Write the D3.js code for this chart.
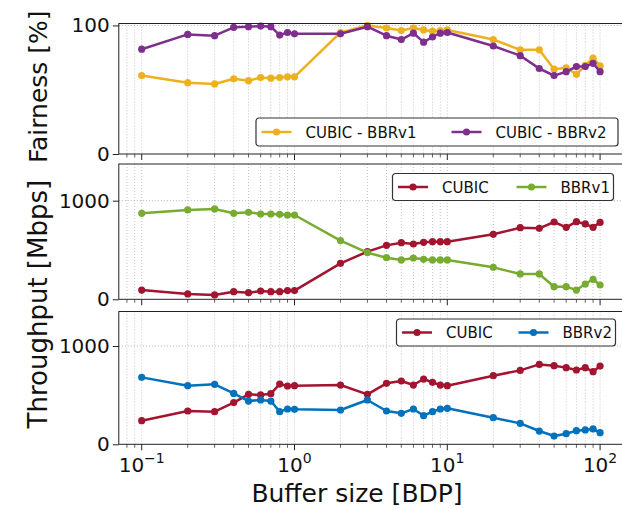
<!DOCTYPE html>
<html>
<head>
<meta charset="utf-8">
<script src="https://cdn.jsdelivr.net/npm/d3@7"></script>
<style>
  body { margin: 0; background: #fff; }
  text { font-family: "DejaVu Sans", sans-serif; fill: #111; }
</style>
</head>
<body>
<div id="chart"></div>
<script>
// buffer sizes in BDP
var bufferSizes = [0.1, 0.2, 0.3, 0.4, 0.5, 0.6, 0.7, 0.8, 0.9, 1,
                   2, 3, 4, 5, 6, 7, 8, 9, 10,
                   20, 30, 40, 50, 60, 70, 80, 90, 100];

// fairness [%]
var fairCubicBbr1 = [61, 55.5, 54.5, 58.5, 57, 59.5, 59, 59.5, 60, 60,
                     94.5, 100, 98, 96, 98, 96.5, 95.5, 96, 96.5,
                     89, 81, 81, 66, 67, 62, 69, 74.5, 68.5];
var fairCubicBbr2 = [81.5, 93, 92, 98.5, 99, 99.5, 99, 92.5, 94.5, 93.5,
                     93.5, 99, 92, 89, 94, 87, 91, 94, 94.5,
                     84, 76.5, 66.5, 61, 64, 68, 68, 70.5, 64];

// throughput [Mbps], CUBIC vs BBRv1
var tputCubic1 = [94, 54, 44, 77, 67, 84, 77, 77, 88, 88,
                  365, 483, 547, 574, 561, 578, 584, 584, 584,
                  659, 726, 720, 784, 730, 787, 764, 730, 780];
var tputBbr1 = [872, 906, 916, 872, 882, 865, 865, 862, 855, 855,
                595, 473, 422, 399, 419, 405, 399, 399, 399,
                324, 257, 257, 128, 128, 94, 155, 203, 145];

// throughput [Mbps], CUBIC vs BBRv2
var tputCubic2 = [240, 339, 332, 424, 508, 502, 515, 613, 593, 596,
                  603, 508, 620, 644, 603, 664, 630, 603, 596,
                  698, 752, 813, 800, 780, 756, 780, 739, 796];
var tputBbr2 = [681, 596, 610, 518, 440, 451, 440, 332, 359, 356,
                349, 451, 339, 315, 359, 291, 332, 359, 366,
                271, 213, 135, 84, 108, 139, 146, 156, 118];

var colors = {
	orange: "#EDB120",
	purple: "#7E2F8E",
	red:    "#A2142F",
	green:  "#77AC30",
	blue:   "#0072BD"
};

var width = 622, height = 509;

var svg = d3.select("#chart").append("svg")
			.attr("width", width)
			.attr("height", height);

// shared log x axis, matplotlib-like 5% margins in log space
var x = d3.scaleLog()
		.domain([Math.pow(10, -1.15), Math.pow(10, 2.15)])
		.range([118.8, 623]);

var panels = [
	{
		top: 23.5, bottom: 154, yMax: 101.5, yTicks: [0, 100],
		series: [
			{name: "CUBIC - BBRv1", values: fairCubicBbr1, color: colors.orange},
			{name: "CUBIC - BBRv2", values: fairCubicBbr2, color: colors.purple}
		],
		legend: {x: 256, y: 118, w: 362, h: 28, gap: 190}
	},
	{
		top: 164, bottom: 299.3, yMax: 1372, yTicks: [0, 1000],
		series: [
			{name: "CUBIC", values: tputCubic1, color: colors.red},
			{name: "BBRv1", values: tputBbr1, color: colors.green}
		],
		legend: {x: 392.5, y: 173.5, w: 221, h: 27, gap: 118.5}
	},
	{
		top: 311.5, bottom: 444.3, yMax: 1351, yTicks: [0, 1000],
		series: [
			{name: "CUBIC", values: tputCubic2, color: colors.red},
			{name: "BBRv2", values: tputBbr2, color: colors.blue}
		],
		legend: {x: 396.5, y: 319, w: 219, h: 27, gap: 116.5}
	}
];

var xTicks = x.ticks();
var majorX = [0.1, 1, 10, 100];

panels.forEach(function(p, i){
	var y = d3.scaleLinear()
			.domain([0, p.yMax])
			.range([p.bottom, p.top]);
	var g = svg.append("g");

	// dotted grid: every x tick, major y ticks
	g.selectAll(".vgrid").data(xTicks).enter().append("line")
		.attr("x1", function(d){ return x(d); })
		.attr("x2", function(d){ return x(d); })
		.attr("y1", p.top)
		.attr("y2", p.bottom)
		.attr("stroke", "#c4c4c4")
		.attr("stroke-width", 1)
		.attr("stroke-dasharray", "1,2");
	g.selectAll(".hgrid").data(p.yTicks.filter(function(d){ return d > 0; })).enter().append("line")
		.attr("x1", x.range()[0])
		.attr("x2", x.range()[1])
		.attr("y1", function(d){ return y(d); })
		.attr("y2", function(d){ return y(d); })
		.attr("stroke", "#b0b0b0")
		.attr("stroke-width", 1)
		.attr("stroke-dasharray", "1,2");

	// y axis
	var yAxis = d3.axisLeft(y)
				.tickValues(p.yTicks)
				.tickSize(6)
				.tickPadding(3)
				.tickFormat(d3.format("d"));
	var ya = g.append("g")
			.attr("transform", "translate(" + x.range()[0] + ",0)")
			.call(yAxis);
	ya.select(".domain").remove();
	ya.selectAll("line").attr("stroke", "#222");
	ya.selectAll("text")
		.style("font-size", "20px")
		.attr("fill", "#111");

	// x ticks at panel bottom
	g.selectAll(".xtick").data(xTicks).enter().append("line")
		.attr("x1", function(d){ return x(d); })
		.attr("x2", function(d){ return x(d); })
		.attr("y1", p.bottom)
		.attr("y2", function(d){ return p.bottom + (majorX.indexOf(d) >= 0 ? 6 : 3.5); })
		.attr("stroke", "#222")
		.attr("stroke-width", function(d){ return majorX.indexOf(d) >= 0 ? 1 : 0.7; });

	if (i === panels.length - 1){
		var exps = {0.1: "\u22121", 1: "0", 10: "1", 100: "2"};
		var lab = g.selectAll(".xlab").data(majorX).enter().append("text")
				.attr("x", function(d){ return x(d); })
				.attr("y", p.bottom + 28)
				.attr("text-anchor", "middle")
				.style("font-size", "20px");
		lab.append("tspan").text("10");
		lab.append("tspan")
			.attr("dy", -9)
			.style("font-size", "14px")
			.text(function(d){ return exps[d]; });
	}

	// series
	var line = d3.line()
				.x(function(d, j){ return x(bufferSizes[j]); })
				.y(function(d){ return y(d); });
	p.series.forEach(function(s){
		g.append("path")
			.datum(s.values)
			.attr("d", line)
			.attr("fill", "none")
			.attr("stroke", s.color)
			.attr("stroke-width", 2.5)
			.attr("stroke-linejoin", "round");
		g.selectAll(null).data(s.values).enter().append("circle")
			.attr("cx", function(d, j){ return x(bufferSizes[j]); })
			.attr("cy", function(d){ return y(d); })
			.attr("r", 3.6)
			.attr("fill", s.color);
	});

	// frame
	g.append("rect")
		.attr("x", x.range()[0])
		.attr("y", p.top)
		.attr("width", x.range()[1] - x.range()[0])
		.attr("height", p.bottom - p.top)
		.attr("fill", "none")
		.attr("stroke", "#222")
		.attr("stroke-width", 1);

	// legend
	var L = p.legend;
	var lg = g.append("g").attr("transform", "translate(" + L.x + "," + L.y + ")");
	lg.append("rect")
		.attr("width", L.w)
		.attr("height", L.h)
		.attr("rx", 3)
		.attr("fill", "#fff")
		.attr("stroke", "#333")
		.attr("stroke-width", 1.2);
	p.series.forEach(function(s, k){
		var ox = 5.5 + k * L.gap;
		var cy = L.h / 2;
		lg.append("line")
			.attr("x1", ox).attr("x2", ox + 30)
			.attr("y1", cy).attr("y2", cy)
			.attr("stroke", s.color)
			.attr("stroke-width", 2.5);
		lg.append("circle")
			.attr("cx", ox + 15).attr("cy", cy)
			.attr("r", 3.6)
			.attr("fill", s.color);
		lg.append("text")
			.attr("x", ox + 44)
			.attr("y", cy + 5.5)
			.style("font-size", "15px")
			.text(s.name);
	});
});

// axis labels
svg.append("text")
	.attr("transform", "translate(47," + ((panels[0].top + panels[0].bottom) / 2 - 2) + ") rotate(-90)")
	.attr("text-anchor", "middle")
	.style("font-size", "25px")
	.text("Fairness [%]");

svg.append("text")
	.attr("transform", "translate(47," + ((panels[1].top + panels[2].bottom) / 2) + ") rotate(-90)")
	.attr("text-anchor", "middle")
	.style("font-size", "26px")
	.text("Throughput [Mbps]");

svg.append("text")
	.attr("x", 357)
	.attr("y", 502)
	.attr("text-anchor", "middle")
	.style("font-size", "25px")
	.text("Buffer size [BDP]");
</script>
</body>
</html>
